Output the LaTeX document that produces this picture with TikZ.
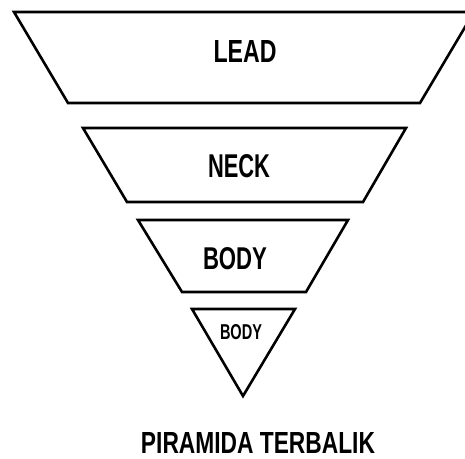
\documentclass[tikz,border=0pt]{standalone}
\usepackage{fontspec}
\setmainfont{Liberation Sans}
\usepackage{graphicx}
\newcommand\fitlabel[3]{\resizebox{#1pt}{#2pt}{\bfseries #3}}
\begin{document}
\begin{tikzpicture}[x=1pt,y=-1pt,
  shapeline/.style={draw=black,line width=2.6pt,line join=miter},
  lbl/.style={inner sep=0pt,outer sep=0pt,anchor=center,text=black}]
\useasboundingbox (0,0) rectangle (465,458);
\clip (0,0) rectangle (465,458);
% trapezoids and triangle
\draw[shapeline] (14,12) -- (474,12) -- (420,103) -- (68,103) -- cycle;
\draw[shapeline] (83,128) -- (406,128) -- (363,202) -- (127,202) -- cycle;
\draw[shapeline] (138,220) -- (348,220) -- (306,292) -- (182,292) -- cycle;
\draw[shapeline] (192,309) -- (295,309) -- (243,396) -- cycle;
% labels
\node[lbl] (lead) at (245,51) {\fitlabel{63}{22}{LEAD}};
\node[lbl] (neck) at (239,166) {\fitlabel{62}{23}{NECK}};
\node[lbl] (body) at (235,259) {\fitlabel{64}{22}{BODY}};
\node[lbl] (bodysmall) at (241,332.5) {\fitlabel{42}{15}{BODY}};
\node[lbl] (title) at (258,442.5) {\fitlabel{234}{21}{PIRAMIDA TERBALIK}};
\end{tikzpicture}
\end{document}
